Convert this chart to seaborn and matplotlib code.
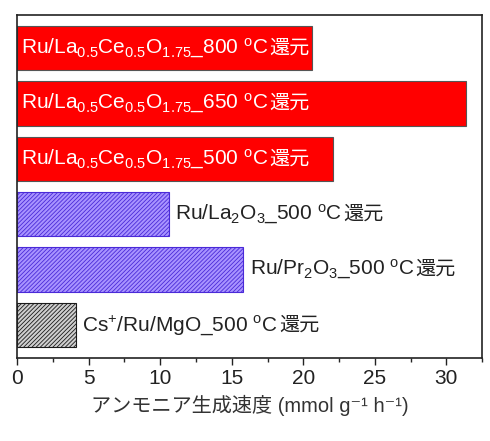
import matplotlib
matplotlib.use("Agg")
import matplotlib.pyplot as plt
import seaborn as sns

# catalysts (top to bottom) and ammonia synthesis rates
catalysts = [
    "Ru/La$_{0.5}$Ce$_{0.5}$O$_{1.75}$_800 $^{\\rm o}$C",
    "Ru/La$_{0.5}$Ce$_{0.5}$O$_{1.75}$_650 $^{\\rm o}$C",
    "Ru/La$_{0.5}$Ce$_{0.5}$O$_{1.75}$_500 $^{\\rm o}$C",
    "Ru/La$_{2}$O$_{3}$_500 $^{\\rm o}$C",
    "Ru/Pr$_{2}$O$_{3}$_500 $^{\\rm o}$C",
    "Cs$^{+}$/Ru/MgO_500 $^{\\rm o}$C",
]
suffix = "還元"
rates = [20.6, 31.4, 22.1, 10.6, 15.8, 4.1]
groups = ["new", "new", "new", "oxide", "oxide", "ref"]

face = {"new": "#ff0000", "oxide": "#a893ff", "ref": "#cfcfcf"}
edge = {"new": "#555555", "oxide": "#4a2ad8", "ref": "#1a1a1a"}
hatch = {"new": "", "oxide": "////////", "ref": "////////"}

sns.set_style("ticks")
plt.rcParams["font.family"] = ["Liberation Sans", "Noto Sans CJK JP", "DejaVu Sans"]
plt.rcParams["mathtext.fontset"] = "custom"
plt.rcParams["mathtext.rm"] = "Liberation Sans"
plt.rcParams["mathtext.it"] = "Liberation Sans:italic"
plt.rcParams["hatch.linewidth"] = 0.6

fig, ax = plt.subplots(figsize=(4.9, 4.41), dpi=100)
fig.subplots_adjust(left=0.035, right=0.984, top=0.966, bottom=0.188)

sns.barplot(x=rates, y=list(range(len(rates))), orient="h", hue=list(range(len(rates))),
            palette=[face[g] for g in groups], legend=False, width=0.8,
            saturation=1, ax=ax)

for p, g in zip(ax.patches, groups):
    p.set_hatch(hatch[g])
    p.set_edgecolor(edge[g])
    p.set_linewidth(0.8)

for i, (lab, v, g) in enumerate(zip(catalysts, rates, groups)):
    if g == "new":
        col, x0 = "white", 0.25
    else:
        col, x0 = "#222222", v + 0.45
    t = ax.text(x0, i, lab, color=col, fontsize=15, va="center", ha="left")
    ax.annotate(suffix, xy=(1, 0.5), xycoords=t, xytext=(1, 0),
                textcoords="offset points", color=col, fontsize=14.5,
                va="center", ha="left",
                fontfamily=["Noto Sans CJK JP", "DejaVu Sans"])

ax.set_xlim(0, 32.3)
ax.set_ylim(5.6, -0.6)
ax.set_yticks([])
ax.set_ylabel("")
ax.set_xticks(range(0, 31, 5))
ax.set_xticks([2.5 + 5 * k for k in range(7)], minor=True)
ax.tick_params(axis="x", which="major", direction="out", length=5, width=1,
               labelsize=15, colors="#222222", pad=3)
ax.tick_params(axis="x", which="minor", direction="out", length=3, width=1)
ax.set_xlabel("アンモニア生成速度 (mmol g\u207b\u00b9 h\u207b\u00b9)", fontsize=14.5,
              color="#333333", labelpad=5)
for s in ax.spines.values():
    s.set_visible(True)
    s.set_color("#222222")
    s.set_linewidth(1.2)

fig.savefig("out.png", dpi=100)
